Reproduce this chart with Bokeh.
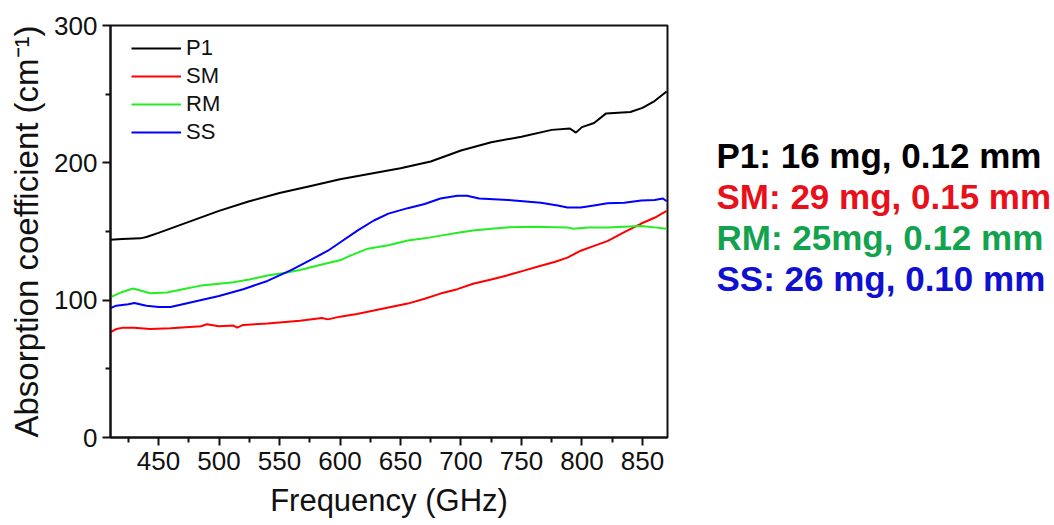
from bokeh.plotting import figure
from bokeh.models import Range1d, FixedTicker, Legend, LegendItem
from bokeh.layouts import row
from bokeh.core.properties import value
from bokeh.embed import file_html
from bokeh.resources import INLINE

# ---- data ----
p1_f = [410, 420, 435, 440, 450, 475, 500, 525, 550, 575, 600, 625, 650, 675, 700,
        725, 750, 775, 790, 795, 800, 810, 820, 840, 850, 860, 870]
p1_a = [144, 144.5, 145, 146, 149, 157, 165, 172, 178, 183, 188, 192, 196, 201, 209,
        215, 219, 224, 225, 222, 226, 229, 236, 237, 240, 245, 252]

sm_f = [410, 415, 421, 430, 443, 460, 485, 490, 500, 512, 515, 520, 540, 567, 585, 590,
        600, 614, 628, 642, 656, 670, 683, 697, 710, 725, 738, 752, 766, 778, 788, 799,
        810, 821, 835, 849, 860, 870]
sm_a = [76.5, 79, 80, 80, 79, 79.5, 81, 82.5, 81, 81.5, 80, 82, 83, 85, 87, 86,
        88, 90, 92.5, 95, 97.5, 101, 104.8, 108, 112, 115, 118, 121.5, 125, 128, 131, 136,
        139.5, 143, 149.5, 155.8, 160, 165]

rm_f = [410, 420, 429, 435, 443, 457, 470, 485, 500, 512, 525, 540, 555, 567, 585, 600,
        610, 623, 640, 656, 670, 683, 700, 710, 725, 738, 760, 788, 793, 805, 821, 835,
        849, 860, 870]
rm_a = [102, 106, 108.5, 107, 105, 105.6, 108, 110.6, 112, 113, 115, 118, 120, 122, 126, 129,
        133, 137.5, 140, 143.4, 145, 147, 149.5, 150.7, 152, 153, 153.5, 153, 152, 153, 153, 153.5,
        154, 153, 152]

ss_f = [410, 415, 425, 430, 440, 450, 460, 470, 480, 500, 520, 540, 550, 560, 575, 590,
        600, 615, 628, 640, 656, 670, 683, 697, 705, 715, 739, 766, 780, 788, 799, 810,
        821, 835, 849, 860, 867, 870]
ss_a = [94, 96, 97, 98, 96, 95, 95, 97, 99, 103, 108, 114, 118, 122, 129, 136,
        142, 151, 158, 163, 167, 170, 174, 176, 176, 174, 173, 171, 169, 167.5, 167.5, 169,
        170.5, 171, 172.5, 173, 174, 172]

series_names = ["P1", "SM", "RM", "SS"]
line_colors = ["#000000", "#ff0000", "#22ee22", "#0000ff"]
notes = ["P1: 16 mg, 0.12 mm", "SM: 29 mg, 0.15 mm", "RM: 25mg, 0.12 mm", "SS: 26 mg, 0.10 mm"]
note_colors = ["#000000", "#e8101a", "#13a34f", "#1010d0"]

x_ticks = [450, 500, 550, 600, 650, 700, 750, 800, 850]
y_ticks = [0, 100, 200, 300]

FONT = "Liberation Sans"
H = 522
TOP = 25
BOTTOM = 85

p = figure(width=677, height=H, output_backend="svg", toolbar_location=None,
           x_range=Range1d(410.3, 870.7), y_range=Range1d(0, 300),
           min_border_left=110, min_border_right=10, min_border_top=TOP, min_border_bottom=BOTTOM)

p.background_fill_color = "white"
p.border_fill_color = "white"
p.grid.visible = False
p.outline_line_color = "#111111"
p.outline_line_width = 2

renderers = []
for f, a, c in zip([p1_f, sm_f, rm_f, ss_f], [p1_a, sm_a, rm_a, ss_a], line_colors):
    r = p.line(f, a, line_color=c, line_width=2)
    renderers.append(r)

legend = Legend(items=[LegendItem(label=n, renderers=[r]) for n, r in zip(series_names, renderers)],
                location="top_left")
legend.border_line_color = None
legend.background_fill_alpha = 0
legend.label_text_font = FONT
legend.label_text_font_size = "22px"
legend.label_text_color = "#111111"
legend.glyph_width = 50
legend.glyph_height = 20
legend.label_height = 20
legend.spacing = 2
legend.label_standoff = 5
legend.margin = 3
legend.padding = 5
legend.location = (21, 292)
p.add_layout(legend)

for ax in (p.xaxis, p.yaxis):
    ax.axis_line_width = 2
    ax.axis_line_color = "#111111"
    ax.major_tick_line_width = 2
    ax.minor_tick_line_width = 2
    ax.major_tick_line_color = "#111111"
    ax.minor_tick_line_color = "#111111"
    ax.major_tick_in = 0
    ax.major_tick_out = 8
    ax.minor_tick_in = 0
    ax.minor_tick_out = 5
    ax.major_label_text_font = FONT
    ax.major_label_text_font_size = "26px"
    ax.major_label_text_color = "#111111"
    ax.axis_label_text_font = FONT
    ax.axis_label_text_font_style = "normal"
    ax.axis_label_text_color = "#111111"

p.xaxis.axis_label_text_font_size = "31px"
p.yaxis.axis_label_text_font_size = "33px"
p.xaxis.ticker = FixedTicker(ticks=x_ticks, minor_ticks=[425, 475, 525, 575, 625, 675, 725, 775, 825])
p.yaxis.ticker = FixedTicker(ticks=y_ticks, minor_ticks=[50, 150, 250])
p.xaxis.axis_label = "Frequency (GHz)"
p.yaxis.axis_label = "Absorption coefficient (cm\u207b\u00b9)"
p.xaxis.major_label_standoff = 6
p.yaxis.major_label_standoff = 5
p.xaxis.axis_label_standoff = 10
p.yaxis.axis_label_standoff = 6

# ---- side annotation panel (y measured in page pixels, top-down) ----
W2 = 375
p2 = figure(width=W2, height=H, output_backend="svg", toolbar_location=None,
            x_range=Range1d(0, W2), y_range=Range1d(H - BOTTOM, TOP),
            min_border_left=0, min_border_right=0, min_border_top=TOP, min_border_bottom=BOTTOM)
p2.axis.visible = False
p2.grid.visible = False
p2.outline_line_color = None
p2.background_fill_color = "white"
p2.border_fill_color = "white"
p2.text(x=[39] * len(notes), y=[155 + 41 * i for i in range(len(notes))], text=notes,
        text_color=note_colors, text_font=value(FONT), text_font_size=value("35px"),
        text_font_style="bold", text_baseline="middle", text_align="left")

layout = row(p, p2, spacing=0)
open("out.html", "w").write(file_html(layout, INLINE))
